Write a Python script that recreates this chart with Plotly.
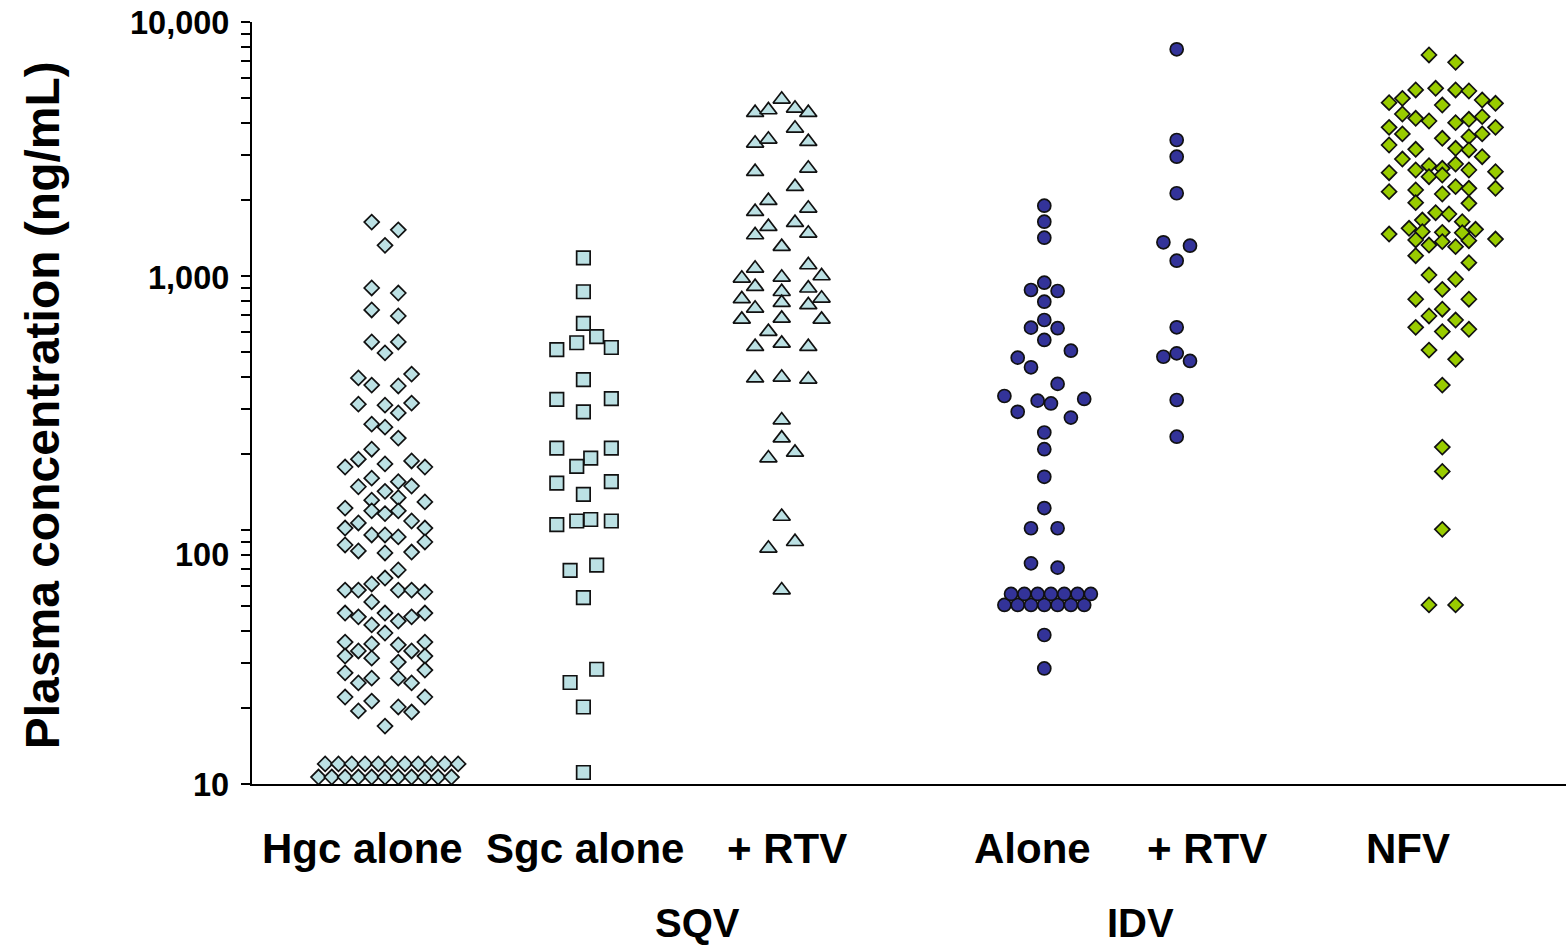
import math
import plotly.graph_objects as go

# ---------------- data ----------------
# SQV Hgc alone (diamonds)
hgc_values = [1630, 1520, 1320, 897, 857, 735, 696, 550, 550, 498,
              411, 397, 372, 369, 313, 310, 316, 289, 261, 254,
              230, 208, 190, 177, 182, 187, 177, 160, 148, 142,
              155, 149, 131, 134, 129,
              122, 119, 116, 119, 108.5, 106.6, 101.8, 101.8, 95.6, 95.6,
              93.9, 89.7, 87.3, 82.7, 81.2, 81.9, 69.6, 64.7, 61.3, 58.0,
              58.0, 58.0, 58.0, 57.0, 52.1, 47.1, 45.5, 47.1, 43.8, 45.5,
              47.1, 42.3, 39.3, 36.2, 35.6, 33.4, 31.9, 31.3, 35.3, 33.4,
              36.2, 30.2, 31.9, 28.1, 27.4, 26.1, 25.0, 26.1, 25.0, 22.0,
              21.2, 19.4, 20.1, 19.2, 22.0, 16.9]
hgc_slots = [-1, 1, 0, -1, 1, -1, 1, -1, 1, 0,
             2, -2, -1, 1, -2, 0, 2, 1, -1, 0,
             1, -1, -2, -3, 0, 2, 3, -1, -2, 0,
             1, 2, -1, 1, 3,
             -3, -1, 0, 1, 2, -2, -3, 3, -1, 0,
             1, 3, -3, -2, 0, 2, 1, 0, -1, -3,
             -2, 1, 2, 3, -1, -3, -2, 0, 1, 2,
             3, -1, 0, -3, -1, -2, -3, -1, 1, 2,
             3, 1, 3, 3, -3, -1, -2, 1, 2, -3,
             -1, -2, 1, 2, 3, 0]
hgc_low_upper_values = [12.0, 12.0, 12.0, 12.0, 12.0, 12.0, 12.0, 12.0, 12.0, 12.0, 12.0]
hgc_low_upper_slots = [-4.5, -3.5, -2.5, -1.5, -0.5, 0.5, 1.5, 2.5, 3.5, 4.5, 5.5]
hgc_low_lower_values = [10.65, 10.65, 10.65, 10.65, 10.65, 10.65, 10.65, 10.65, 10.65, 10.65, 10.65]
hgc_low_lower_slots = [-5, -4, -3, -2, -1, 0, 1, 2, 3, 4, 5]

# SQV Sgc alone (squares)
sgc_values = [1178, 867, 651, 577, 546, 513, 523, 391, 327, 329,
              292, 210, 210, 192, 178, 153, 155, 138, 105, 108.5,
              110, 108.5, 69.4, 72.7, 54.2, 28.3, 25.1, 20.1, 11.1]
sgc_slots = [0, 0, 0, 1, -0.5, -2, 2.1, 0, -2, 2.1,
             0, -2, 2.1, 0.55, -0.5, -2, 2.1, 0, -2, -0.5,
             0.55, 2.1, -1, 1, 0, 1, -1, 0, 0]

# SQV + RTV (triangles)
sqv_rtv_values = [4962, 4394, 4503, 4573, 4394, 3814, 3330, 3453, 3379, 2574,
                  2655, 2247, 1980, 1791, 1847, 1564, 1621, 1450, 1473, 1305,
                  1072, 1105, 979, 988, 1000, 908, 895, 867, 812, 785,
                  817, 746, 769, 675, 681, 675, 604, 527, 543, 527,
                  396, 399, 392, 271, 230, 202, 192, 113, 89.9, 84.7,
                  58.0]
sqv_rtv_slots = [0, -2, -1, 1, 2, 1, -2, -1, 2, -2,
                 2, 1, -1, -2, 2, -1, 1, -2, 2, 0,
                 -2, 2, -3, 0, 3, -2, 2, 0, -3, 0,
                 3, -2, 2, -3, 0, 3, -1, -2, 0, 2,
                 -2, 0, 2, 0, 0, 1, -1, 0, 1, -1,
                 0]

# IDV alone (circles)
idv_values = [1891, 1636, 1415, 941, 881, 873, 792, 671, 626, 623,
              560, 508, 477, 437, 376, 337, 323, 315, 328, 292,
              277, 242, 208, 162, 122, 101.6, 101.6, 73.9, 71.1, 38.6,
              28.5]
idv_slots = [0, 0, 0, 0, -1, 1, 0, 0, -1, 1,
             0, 2, -2, -1, 1, -3, -0.5, 0.5, 3, -2,
             2, 0, 0, 0, 0, -1, 1, -1, 1, 0,
             0]
idv_low_upper_values = [56.0, 56.0, 56.0, 56.0, 56.0, 56.0, 56.0]
idv_low_upper_slots = [-2.5, -1.5, -0.5, 0.5, 1.5, 2.5, 3.5]
idv_low_lower_values = [50.7, 50.7, 50.7, 50.7, 50.7, 50.7, 50.7]
idv_low_lower_slots = [-3, -2, -1, 0, 1, 2, 3]

# IDV + RTV (circles)
idv_rtv_values = [7806, 3431, 2949, 2117, 1357, 1316, 1149, 628, 481, 496,
                  463, 325, 233]
idv_rtv_slots = [0, 0, 0, 0, -1, 1, 0, 0, -1, 0,
                 1, 0, 0]

# NFV (green diamonds)
nfv_values = [7417, 6939, 5400, 5483, 5400, 5350, 4812, 5007, 4712, 4930,
              4786, 4343, 4177, 4076, 4014, 4140, 4240, 3848, 3848, 3625,
              3537, 3625, 3485, 3279, 3154, 3183, 3135, 2888, 2949, 2760,
              2718, 2655, 2614, 2614, 2551, 2574, 2460, 2498, 2148, 2181,
              2247, 2215, 2215, 2103, 1944, 1933, 1775, 1754, 1661, 1636,
              1541, 1494, 1486, 1480, 1527, 1463, 1386, 1324, 1365, 1305,
              1377, 1398, 1202, 1128, 1009, 971, 886, 810, 810, 696,
              740, 671, 628, 604, 617, 511, 470, 372, 212, 170,
              100.6, 50.7, 50.7]
nfv_slots = [-1, 1, -2, -0.5, 1, 2, -4, -3, 0, 3,
             4, -3, -2, -1, 1, 2, 3, -4, 4, -3,
             2, 3, 0, -4, -2, 1, 2, -3, 3, 1,
             -1, 0, -2, 2, -4, 4, -1, 0, -4, -2,
             1, 2, 4, 0, -2, 2, -0.5, 0.5, -1.5, 1.5,
             -2.5, -1.5, 0, 1.5, 2.5, -4, -2, -1, 0, 1,
             2, 4, -2, 2, -1, 1, 0, -2, 2, -1,
             0, 1, -2, 0, 2, -1, 1, 0, 0, 0,
             0, -1, 1]

category_labels = ["Hgc alone", "Sgc alone", "+ RTV", "Alone", "+ RTV", "NFV"]
group_labels = ["SQV", "IDV"]
y_tick_values = [10, 100, 1000, 10000]
y_tick_labels = ["10", "100", "1,000", "10,000"]
y_minor_values = [20, 30, 40, 50, 60, 70, 80, 90,
                  200, 300, 400, 500, 600, 700, 800, 900,
                  2000, 3000, 4000, 5000, 6000, 7000, 8000, 9000]

# ---------------- layout constants ----------------
STEP = 13.3
CENTERS = [385, 583.4, 781.7, 1044.3, 1176.7, 1442.3]
LABEL_X = [362, 585, 787, 1032, 1207, 1408]
GROUP_X = [697, 1140]
LIGHT = "#BCE1E4"
NAVY = "#333399"
GREEN = "#99CC00"
EDGE = "#111111"
FONT = "Liberation Sans, Arial, sans-serif"


def xs(center, slots):
    return [center + s * STEP for s in slots]


def add(fig, center, slots, values, symbol, size, color):
    fig.add_trace(go.Scatter(
        x=xs(center, slots), y=values, mode="markers",
        marker=dict(symbol=symbol, size=size, color=color,
                    line=dict(color=EDGE, width=1.7)),
        cliponaxis=False, showlegend=False, hoverinfo="y"))


fig = go.Figure()
add(fig, CENTERS[0], hgc_low_lower_slots, hgc_low_lower_values, "diamond", 11.5, LIGHT)
add(fig, CENTERS[0], hgc_low_upper_slots, hgc_low_upper_values, "diamond", 11.5, LIGHT)
add(fig, CENTERS[0], hgc_slots, hgc_values, "diamond", 11.5, LIGHT)
add(fig, CENTERS[1], sgc_slots, sgc_values, "square", 13.5, LIGHT)
add(fig, CENTERS[2], sqv_rtv_slots, sqv_rtv_values, "triangle-up", 15, LIGHT)
add(fig, CENTERS[3], idv_low_lower_slots, idv_low_lower_values, "circle", 13, NAVY)
add(fig, CENTERS[3], idv_low_upper_slots, idv_low_upper_values, "circle", 13, NAVY)
add(fig, CENTERS[3], idv_slots, idv_values, "circle", 13, NAVY)
add(fig, CENTERS[4], idv_rtv_slots, idv_rtv_values, "circle", 13, NAVY)
add(fig, CENTERS[5], nfv_slots, nfv_values, "diamond", 11.5, GREEN)

annotations = []
# y tick labels (the "100" label sits below its tick in the reference)
tick_shift = {10: -1, 100: -25, 1000: -2, 10000: -1}
for v, t in zip(y_tick_values, y_tick_labels):
    annotations.append(dict(
        x=0, xref="paper", y=math.log10(v), yref="y",
        text="<b>%s</b>" % t, showarrow=False, xanchor="right", yanchor="middle",
        xshift=-21, yshift=tick_shift[v],
        font=dict(family=FONT, size=32.5, color="black")))
# category labels
for x, t in zip(LABEL_X, category_labels):
    annotations.append(dict(
        x=x, xref="x", y=0, yref="paper", text="<b>%s</b>" % t, showarrow=False,
        xanchor="center", yanchor="middle", yshift=-64,
        font=dict(family=FONT, size=42, color="black")))
for x, t in zip(GROUP_X, group_labels):
    annotations.append(dict(
        x=x, xref="x", y=0, yref="paper", text="<b>%s</b>" % t, showarrow=False,
        xanchor="center", yanchor="middle", yshift=-139,
        font=dict(family=FONT, size=40, color="black")))
# y title
annotations.append(dict(
    x=0, xref="paper", y=0.497, yref="paper", text="<b>Plasma concentration (ng/mL)</b>",
    showarrow=False, textangle=-90, xanchor="center", yanchor="middle", xshift=-210,
    font=dict(family=FONT, size=48, color="black")))

fig.update_layout(
    width=1566, height=947,
    margin=dict(l=252, r=0, t=22, b=163),
    paper_bgcolor="white", plot_bgcolor="white",
    annotations=annotations,
    xaxis=dict(range=[252, 1566], showgrid=False, zeroline=False, showticklabels=False,
               ticks="", showline=True, linecolor="black", linewidth=2),
    yaxis=dict(type="log", range=[1, 4], showgrid=False, zeroline=False,
               showticklabels=False, tickvals=y_tick_values,
               ticks="outside", ticklen=9, tickwidth=2, tickcolor="black",
               showline=True, linecolor="black", linewidth=2,
               minor=dict(tickvals=y_minor_values, ticks="outside", ticklen=9,
                          tickwidth=1.5, tickcolor="black", showgrid=False)),
)

fig.write_html("out.html")
